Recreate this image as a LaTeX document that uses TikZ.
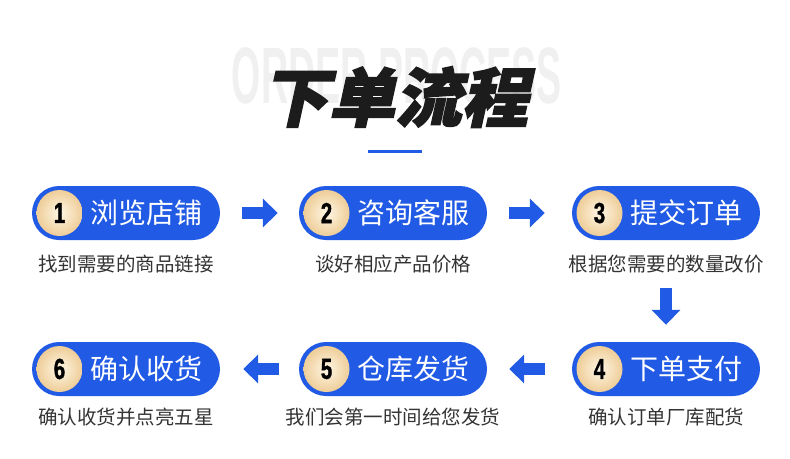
\documentclass[tikz,border=0pt]{standalone}
\usepackage{fontspec}
\setmainfont{Liberation Sans}
\newfontfamily\cjk{Noto Sans CJK SC}
\newfontfamily\cjktitle{Noto Sans CJK SC}[FakeSlant=0.22,FakeBold=2.5,FakeStretch=1.04]
\newfontfamily\numfont{Liberation Sans}[FakeStretch=0.7,FakeBold=1.2]
\newfontfamily\ghostfont{Liberation Sans}[FakeStretch=0.47]
\usetikzlibrary{positioning,arrows.meta}

\definecolor{flowblue}{RGB}{33,90,228}
\definecolor{discin}{RGB}{255,247,230}
\definecolor{discout}{RGB}{238,205,152}
\definecolor{subgray}{RGB}{51,51,51}
\definecolor{titlegray}{RGB}{28,28,28}
\definecolor{ghostgray}{RGB}{240,240,240}

\begin{document}
\begin{tikzpicture}[x=1pt,y=-1pt,
  pill/.style={fill=flowblue, rounded corners=27pt, minimum width=188pt, minimum height=54pt, inner sep=0pt},
  numdisc/.style={circle, minimum size=46pt, inner sep=0pt, inner color=discin, outer color=discout,
    font=\numfont\bfseries\fontsize{29}{29}\selectfont},
  steptext/.style={text=white, inner sep=0pt, font=\cjk\fontsize{28}{28}\selectfont},
  subtext/.style={text=subgray, inner sep=0pt, font=\cjk\fontsize{19.5}{19.5}\selectfont},
  flow/.style={flowblue, line width=12pt, -{Triangle[length=15pt,width=28pt]}}
]
  \useasboundingbox (0,0) rectangle (790,458);

  % Heading
  \node[text=ghostgray, inner sep=0pt, font=\ghostfont\bfseries\fontsize{80}{80}\selectfont] (ghost) at (397,76) {ORDER PROCESS};
  \node[text=titlegray, inner sep=0pt, font=\cjktitle\bfseries\fontsize{64}{64}\selectfont] (title) at (395,97) {下单流程};
  \draw[flowblue, line width=3pt] (368,151.5) -- (422,151.5);

  % Steps
  \node[pill] (p1) at (126,213) {};
  \node[pill] (p2) at (393,213) {};
  \node[pill] (p3) at (666,213) {};
  \node[pill] (p4) at (666,369) {};
  \node[pill] (p5) at (393,369) {};
  \node[pill] (p6) at (126,369) {};

  % Numbers
  \node[numdisc, right=4.5pt of p1.west] (n1) {1};
  \node[numdisc, right=4.5pt of p2.west] (n2) {2};
  \node[numdisc, right=4.5pt of p3.west] (n3) {3};
  \node[numdisc, right=4.5pt of p4.west] (n4) {4};
  \node[numdisc, right=4.5pt of p5.west] (n5) {5};
  \node[numdisc, right=4.5pt of p6.west] (n6) {6};

  % Step names
  \node[steptext] (t1) at ([xshift=20pt]p1.center) {浏览店铺};
  \node[steptext] (t2) at ([xshift=20pt]p2.center) {咨询客服};
  \node[steptext] (t3) at ([xshift=20pt]p3.center) {提交订单};
  \node[steptext] (t4) at ([xshift=20pt]p4.center) {下单支付};
  \node[steptext] (t5) at ([xshift=20pt]p5.center) {仓库发货};
  \node[steptext] (t6) at ([xshift=20pt]p6.center) {确认收货};

  % Notes
  \node[subtext] (s1) at (126,264) {找到需要的商品链接};
  \node[subtext] (s2) at (393,264) {谈好相应产品价格};
  \node[subtext] (s3) at (666,264) {根据您需要的数量改价};
  \node[subtext] (s4) at (666,417) {确认订单厂库配货};
  \node[subtext] (s5) at (393,417) {我们会第一时间给您发货};
  \node[subtext] (s6) at (126,417) {确认收货并点亮五星};

  % Arrows
  \draw[flow, shorten <=22pt, shorten >=21pt] (p1.east) -- (p2.west);
  \draw[flow, shorten <=22pt, shorten >=27pt] (p2.east) -- (p3.west);
  \draw[flow, shorten <=48pt, shorten >=17pt] (p3.south) -- (p4.north);
  \draw[flow, shorten <=27pt, shorten >=22pt] (p4.west) -- (p5.east);
  \draw[flow, shorten <=20pt, shorten >=23pt] (p5.west) -- (p6.east);
\end{tikzpicture}
\end{document}
